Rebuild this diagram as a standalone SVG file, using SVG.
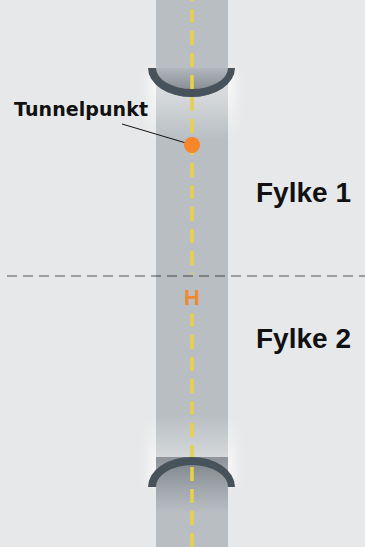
<svg xmlns="http://www.w3.org/2000/svg" width="365" height="547" viewBox="0 0 365 547">
<style>
.lbl{font-family:"Liberation Sans",Arial,sans-serif;font-weight:bold;fill:#111;}
.arch{fill:#47525b;}
.center{stroke:#e6d14a;stroke-width:3.5;stroke-dasharray:14 8;fill:none;}
</style>
<defs>
<linearGradient id="glowTop" gradientUnits="userSpaceOnUse" x1="0" y1="68" x2="0" y2="140">
<stop offset="0" stop-color="#fff" stop-opacity="0.75"/>
<stop offset="0.4" stop-color="#fff" stop-opacity="0.55"/>
<stop offset="1" stop-color="#fff" stop-opacity="0"/>
</linearGradient>
<linearGradient id="glowBot" gradientUnits="userSpaceOnUse" x1="0" y1="487" x2="0" y2="415">
<stop offset="0" stop-color="#fff" stop-opacity="0.75"/>
<stop offset="0.4" stop-color="#fff" stop-opacity="0.55"/>
<stop offset="1" stop-color="#fff" stop-opacity="0"/>
</linearGradient>
<linearGradient id="shadeDown" x1="0" y1="0" x2="0" y2="1">
<stop offset="0" stop-color="#3a444d" stop-opacity="0.05"/>
<stop offset="1" stop-color="#3a444d" stop-opacity="0.5"/>
</linearGradient>
<linearGradient id="shadeUp" gradientUnits="userSpaceOnUse" x1="0" y1="462" x2="0" y2="512">
<stop offset="0" stop-color="#3a444d" stop-opacity="0.45"/>
<stop offset="0.5" stop-color="#3a444d" stop-opacity="0.2"/>
<stop offset="1" stop-color="#3a444d" stop-opacity="0"/>
</linearGradient>
<filter id="blur" x="-50%" y="-50%" width="200%" height="200%"><feGaussianBlur stdDeviation="5"/></filter>
<clipPath id="roadClip"><rect x="156" y="0" width="72" height="547"/></clipPath>
</defs>
<rect width="365" height="547" fill="#e7e8e9"/>
<g id="halos" filter="url(#blur)">
<rect x="148" y="72" width="88" height="62" fill="url(#glowTop)"/>
<rect x="148" y="421" width="88" height="62" fill="url(#glowBot)"/>
</g>
<g id="road">
<rect x="156" y="0" width="72" height="547" fill="#b8bec2"/>
<g clip-path="url(#roadClip)">
<rect x="156" y="68" width="72" height="72" fill="url(#glowTop)" opacity="0.75"/>
<rect x="156" y="415" width="72" height="72" fill="url(#glowBot)" opacity="0.75"/>
<path d="M148,68 A43.5,29 0 0 0 235,68 Z" fill="#b8bec2"/>
<path d="M148,68 A43.5,29 0 0 0 235,68 Z" fill="url(#shadeDown)"/>
<path d="M148,487 A43.5,30 0 0 1 235,487 Z" fill="#b8bec2"/>
<rect x="156" y="457" width="72" height="60" fill="url(#shadeUp)"/>
</g>
<line class="center" x1="192" y1="0" x2="192" y2="274" stroke-dashoffset="13"/>
<line class="center" x1="192" y1="311" x2="192" y2="547" stroke-dashoffset="20"/>
</g>
<g id="connectors">
<line x1="7" y1="276" x2="365" y2="276" stroke="#000" stroke-opacity="0.32" stroke-width="2" stroke-dasharray="10 6"/>
<line x1="122" y1="124" x2="186" y2="143" stroke="#111" stroke-width="1"/>
</g>
<g id="portal-top">
<path class="arch" d="M148,68 A43.5,29 0 0 0 235,68 L228,68 A36,21 0 0 1 156,68 Z"/>
</g>
<g id="portal-bottom">
<path class="arch" d="M148,487 A43.5,30 0 0 1 235,487 L228,487 A36,22 0 0 0 156,487 Z"/>
</g>
<g id="tunnelpunkt">
<circle cx="192" cy="145" r="8" fill="#f7862a"/>
<text x="14" y="116" font-family="DejaVu Sans,Verdana,sans-serif" font-weight="bold" font-size="19" fill="#111" textLength="134" lengthAdjust="spacing">Tunnelpunkt</text>
</g>
<g id="h-marker">
<text x="192" y="305" font-family="Liberation Sans,Arial,sans-serif" font-weight="bold" font-size="22" fill="#f08a30" text-anchor="middle">H</text>
</g>
<g id="fylke1"><text class="lbl" x="256" y="202" font-size="28">Fylke 1</text></g>
<g id="fylke2"><text class="lbl" x="256" y="348" font-size="28">Fylke 2</text></g>
</svg>
